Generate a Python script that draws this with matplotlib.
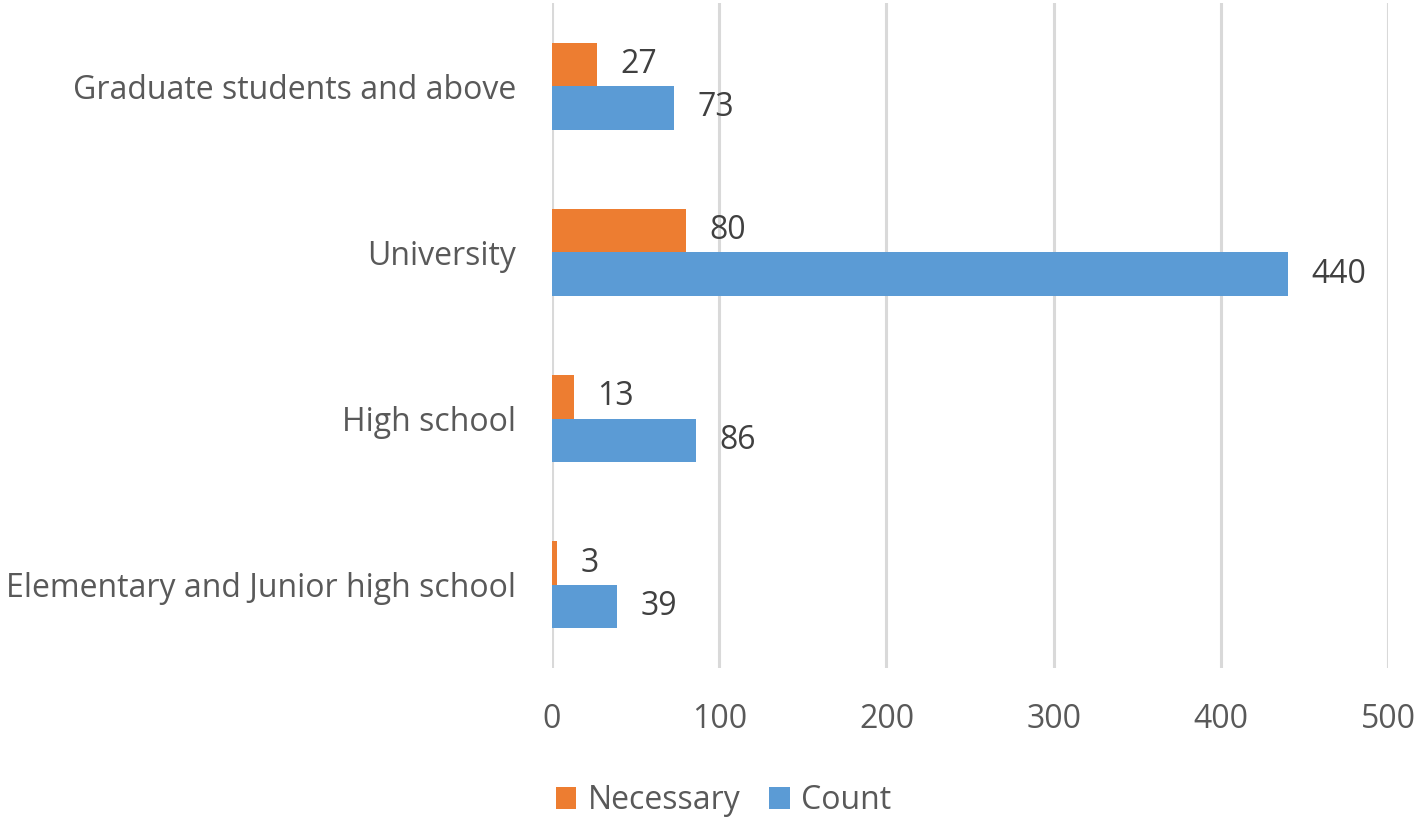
import matplotlib
matplotlib.use('Agg')
import matplotlib.pyplot as plt
import numpy as np

# Data (bottom to top, as drawn)
categories = ['Elementary and Junior high school', 'High school', 'University', 'Graduate students and above']
necessary = [3, 13, 80, 27]
count = [39, 86, 440, 73]
x_ticks = [0, 100, 200, 300, 400, 500]

plt.rcParams['font.family'] = ['Open Sans', 'DejaVu Sans']
fs = 23

fig = plt.figure(figsize=(14.21, 8.17), dpi=100)
ax = fig.add_axes([0.3885, 0.1824, 0.9768 - 0.3885, 0.9963 - 0.1824])

y = np.arange(len(categories))
h = 0.262
b_nec = ax.barh(y + h / 2, necessary, height=h, color='#ED7D31', label='Necessary')
b_cnt = ax.barh(y - h / 2, count, height=h, color='#5B9BD5', label='Count')

ax.bar_label(b_nec, padding=17, fontsize=fs, color='#404040')
ax.bar_label(b_cnt, padding=17, fontsize=fs, color='#404040')

ax.set_xlim(0, 500)
ax.set_ylim(-0.5, len(categories) - 0.5)
ax.set_xticks(x_ticks)
ax.set_yticks(y)
ax.set_yticklabels(categories)
ax.xaxis.grid(True, color='#D9D9D9', linewidth=2.2)
ax.set_axisbelow(True)
for s in ax.spines.values():
    s.set_visible(False)
ax.tick_params(axis='x', length=0, pad=25, labelsize=fs, labelcolor='#595959')
ax.tick_params(axis='y', length=0, pad=26, labelsize=fs, labelcolor='#595959')

fig.legend(handles=[b_nec, b_cnt], loc='center', bbox_to_anchor=(0.509, 0.02),
           ncol=2, frameon=False, fontsize=fs, handlelength=0.65, handleheight=0.65,
           handletextpad=0.35, columnspacing=0.9, labelcolor='#595959')

fig.savefig('out.png', dpi=100)
